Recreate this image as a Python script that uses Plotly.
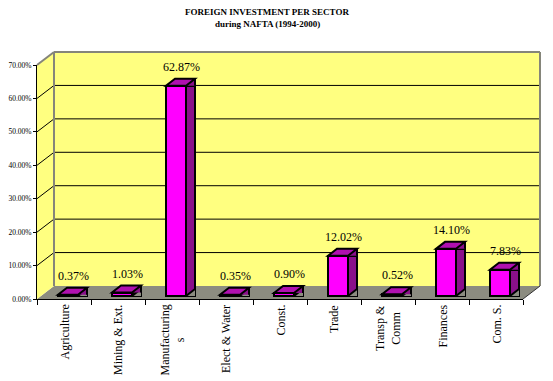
import plotly.graph_objects as go

# ---- data ----
sectors = ["Agriculture", "Mining & Ext.", "Manufacturings", "Elect & Water", "Const.",
           "Trade", "Transp & Comm", "Finances", "Com. S."]
sector_labels = ["Agriculture", "Mining & Ext.", "Manufacturing<br>s", "Elect & Water", "Const.",
                 "Trade", "Transp &<br>Comm", "Finances", "Com. S."]
shares = [0.37, 1.03, 62.87, 0.35, 0.90, 12.02, 0.52, 14.10, 7.83]
y_ticks = [0, 10, 20, 30, 40, 50, 60, 70]
y_tick_text = ["0.00%", "10.00%", "20.00%", "30.00%", "40.00%", "50.00%", "60.00%", "70.00%"]
title_line1 = "FOREIGN INVESTMENT PER SECTOR"
title_line2 = "during NAFTA (1994-2000)"

# ---- geometry / style ----
PAGE = 8                            # default body margin of the html page
W, H = 553 - PAGE, 381 - PAGE
L, R, T, B = 37 - PAGE, 30, 65 - PAGE, 82
PW, PH = W - L - R, H - T - B
YMAX = 70
DEPTH_X, DEPTH_Y = 17, 13          # wall depth in px
DX, DY = DEPTH_X / PW, DEPTH_Y / PH
BAR_LIFT = 3                        # bars stand a little behind the front edge
lift = BAR_LIFT / (PH / YMAX)
cat_w = PW / len(sectors)
FRONT_L, FRONT_R = -6, 14           # front face, px from category centre
BDX, BDY = 9, 7                     # bar depth px
OUT = 2                             # outline width

SERIF = "Liberation Serif, Times New Roman, serif"
YELLOW = "#FFFF80"
FLOOR = "#8C8C80"
EDGE = "#85857A"
MAG = "#FF00FF"
TOPC = "#B010B0"
SIDEC = "#8A108A"

fig = go.Figure()

fig.add_trace(go.Bar(
    x=sectors, y=shares, yaxis="y2",
    offset=FRONT_R / cat_w, width=BDX / cat_w,
    marker=dict(color=SIDEC, line=dict(color="black", width=OUT)),
    hoverinfo="skip", showlegend=False))
fig.add_trace(go.Bar(
    x=sectors, y=shares, yaxis="y2",
    offset=FRONT_L / cat_w, width=(FRONT_R - FRONT_L) / cat_w,
    marker=dict(color=MAG, line=dict(color="black", width=OUT)),
    showlegend=False))

shapes = []
# walls and floor
shapes.append(dict(type="path", xref="paper", yref="paper", layer="below",
                   path=f"M0,0 L1,0 L{1+DX},{DY} L{DX},{DY} Z",
                   fillcolor=FLOOR, line=dict(width=0)))
shapes.append(dict(type="rect", xref="paper", yref="paper", layer="below",
                   x0=DX, x1=1 + DX, y0=DY, y1=1 + DY,
                   fillcolor=YELLOW, line=dict(width=0)))
shapes.append(dict(type="path", xref="paper", yref="paper", layer="below",
                   path=f"M0,0 L{DX},{DY} L{DX},{1+DY} L0,1 Z",
                   fillcolor=YELLOW, line=dict(width=0)))
# gridlines on back and left walls
for v in y_ticks[1:-1]:
    shapes.append(dict(type="line", xref="paper", yref="y", layer="below",
                       x0=DX, x1=1 + DX, ysizemode="pixel", yanchor=v,
                       y0=DEPTH_Y, y1=DEPTH_Y, line=dict(color="black", width=1)))
    shapes.append(dict(type="line", xref="paper", yref="y", layer="below",
                       x0=0, x1=DX, ysizemode="pixel", yanchor=v,
                       y0=0, y1=DEPTH_Y, line=dict(color="black", width=1)))
# wall edges
for (x0, y0, x1, y1) in [(DX, 1 + DY, 1 + DX, 1 + DY), (1 + DX, DY, 1 + DX, 1 + DY),
                         (DX, DY, DX, 1 + DY), (0, 1, DX, 1 + DY)]:
    shapes.append(dict(type="line", xref="paper", yref="paper", layer="below",
                       x0=x0, y0=y0, x1=x1, y1=y1, line=dict(color=EDGE, width=2)))
shapes.append(dict(type="line", xref="paper", yref="paper", layer="below",
                   x0=1, y0=0, x1=1 + DX, y1=DY, line=dict(color="#333333", width=1)))

# 3D bar pieces
for s, v in zip(sectors, shares):
    shapes.append(dict(type="path", xref="x", yref="y2", xsizemode="pixel", ysizemode="pixel",
                       xanchor=s, yanchor=0,
                       path=f"M{FRONT_R},0 L{FRONT_R+BDX},0 L{FRONT_R+BDX},{BDY} Z",
                       fillcolor=FLOOR, line=dict(width=0)))
    shapes.append(dict(type="line", xref="x", yref="y2", xsizemode="pixel", ysizemode="pixel",
                       xanchor=s, yanchor=0, x0=FRONT_R, y0=0, x1=FRONT_R + BDX, y1=BDY,
                       line=dict(color="black", width=OUT)))
    shapes.append(dict(type="path", xref="x", yref="y2", xsizemode="pixel", ysizemode="pixel",
                       xanchor=s, yanchor=v,
                       path=f"M{FRONT_R},0 L{FRONT_R+BDX},{BDY} L{FRONT_R+BDX},0 Z",
                       fillcolor=SIDEC, line=dict(width=0)))
    shapes.append(dict(type="path", xref="x", yref="y2", xsizemode="pixel", ysizemode="pixel",
                       xanchor=s, yanchor=v,
                       path=f"M{FRONT_L},0 L{FRONT_R},0 L{FRONT_R+BDX},{BDY} L{FRONT_L+BDX},{BDY} Z",
                       fillcolor=TOPC, line=dict(color="black", width=OUT)))
    shapes.append(dict(type="line", xref="x", yref="y2", xsizemode="pixel", ysizemode="pixel",
                       xanchor=s, yanchor=v, x0=FRONT_R + BDX, y0=BDY, x1=FRONT_R + BDX, y1=0,
                       line=dict(color="black", width=OUT)))

annotations = []
for s, v in zip(sectors, shares):
    annotations.append(dict(x=s, y=v, xref="x", yref="y2", text=f"{v:.2f}%",
                            showarrow=False, xshift=9.5, yshift=19,
                            font=dict(family=SERIF, size=12, color="black")))
for s, lab in zip(sectors, sector_labels):
    annotations.append(dict(x=s, y=0, xref="x", yref="paper", text=lab, textangle=-90,
                            showarrow=False, xanchor="center", yanchor="top", yshift=-4,
                            align="center", font=dict(family=SERIF, size=12, color="black")))
for txt, yc in [(title_line1, 12.5), (title_line2, 24.5)]:
    annotations.append(dict(x=(267 - 37) / PW, y=1 + (65 - yc) / PH, xref="paper", yref="paper",
                            text=f"<b>{txt}</b>", showarrow=False,
                            xanchor="center", yanchor="middle",
                            font=dict(family=SERIF, size=9, color="black")))

fig.update_layout(
    width=W, height=H, margin=dict(l=L, r=R, t=T, b=B, autoexpand=False),
    paper_bgcolor="white", plot_bgcolor="rgba(0,0,0,0)",
    barmode="overlay", bargap=0, showlegend=False,
    xaxis=dict(type="category", categoryorder="array", categoryarray=sectors,
               range=[-0.5, len(sectors) - 0.5], showticklabels=False, automargin=False,
               showline=True, linecolor="black", linewidth=1,
               ticks="outside", tickson="boundaries", ticklen=5, tickcolor="black",
               showgrid=False, zeroline=False, fixedrange=True),
    yaxis=dict(range=[0, YMAX], tickvals=y_ticks, ticktext=y_tick_text, automargin=False,
               showline=True, linecolor="black", linewidth=1,
               ticks="outside", ticklen=3, tickcolor="black",
               tickfont=dict(family=SERIF, size=7.5, color="black"),
               showgrid=False, zeroline=False, fixedrange=True),
    yaxis2=dict(range=[-lift, YMAX - lift], overlaying="y", visible=False,
                automargin=False, fixedrange=True),
    shapes=shapes, annotations=annotations,
)

fig.write_html("out.html")
